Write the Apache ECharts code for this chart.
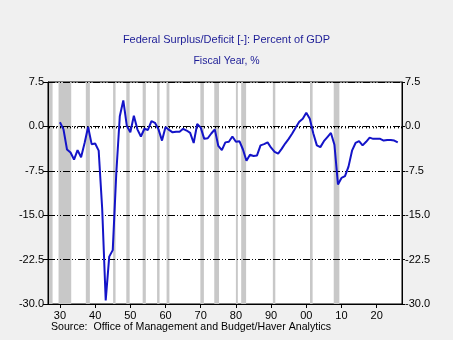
<!DOCTYPE html>
<html>
<head>
<meta charset="utf-8">
<script src="https://cdn.jsdelivr.net/npm/echarts@6/dist/echarts.min.js"></script>
<style>
  html, body { margin: 0; padding: 0; background: #f0f0f0; }
  #chart { width: 453px; height: 340px; }
</style>
</head>
<body>
<div id="chart"></div>
<script>
// Federal surplus (+) / deficit (-) as a percent of GDP, by fiscal year
const years = [];
for (let y = 1930; y <= 2026; y++) years.push(y);

const surplusPct = [
  0.7, -0.5, -3.9, -4.4, -5.6, -4.0, -5.2, -2.8, -0.1, -3.0,   // 1930-1939
  -2.9, -4.1, -13.9, -29.4, -22.0, -20.9, -8.0, 1.7, 4.4, 0.1, // 1940-1949
  -1.0, 1.8, -0.5, -1.7, -0.4, -0.6, 0.9, 0.6, -0.5, -2.4,     // 1950-1959
  -0.1, -0.6, -1.0, -0.9, -0.9, -0.4, -0.7, -1.1, -2.8, 0.4,   // 1960-1969
  -0.2, -2.1, -2.0, -1.2, -0.5, -3.3, -4.0, -2.7, -2.6, -1.7,  // 1970-1979
  -2.6, -2.5, -3.9, -5.8, -4.8, -5.0, -4.9, -3.2, -3.0, -2.7,  // 1980-1989
  -3.6, -4.3, -4.6, -3.8, -2.9, -2.1, -1.2, -0.2, 0.8, 1.3,    // 1990-1999
  2.3, 1.3, -1.2, -3.2, -3.5, -2.5, -1.8, -1.1, -3.1, -9.8,    // 2000-2009
  -8.7, -8.4, -6.8, -4.1, -2.8, -2.5, -3.2, -2.6, -1.9, -2.1,  // 2010-2019
  -2.1, -2.1, -2.4, -2.3, -2.3, -2.4, -2.7                     // 2020-2026
];

// Recession periods (start, end) in fractional years
const recessionStart = [1926.8, 1929.6, 1937.35, 1945.1, 1948.85, 1953.5, 1957.6, 1960.3, 1969.9, 1973.85, 1980.0, 1981.5, 1990.5, 2001.05, 2007.8];
const recessionEnd   = [1927.9, 1933.2, 1938.5, 1945.8, 1949.8, 1954.4, 1958.3, 1961.1, 1970.9, 1975.2, 1980.55, 1982.9, 1991.2, 2001.8, 2009.4];

// Axis tick values
const yearLabels = [1930, 1940, 1950, 1960, 1970, 1980, 1990, 2000, 2010, 2020];
const yearMinor = [];
for (let y = 1927; y <= 2027; y++) yearMinor.push(y);
const yMin = -30, yMax = 7.5, yStep = 7.5;

const titleText = 'Federal Surplus/Deficit [-]: Percent of GDP';
const subtitleText = 'Fiscal Year, %';
const sourceText = 'Source:  Office of Management and Budget/Haver Analytics';

const FONT = '"Liberation Sans", Arial, sans-serif';
const chart = echarts.init(document.getElementById('chart'), null, { renderer: 'canvas' });

const lineData = years.map((y, i) => [y, surplusPct[i]]);
const recessionAreas = recessionStart.map((s, i) => [{ xAxis: s }, { xAxis: recessionEnd[i] }]);

const yLabel = {
  fontFamily: FONT, fontSize: 11, color: '#000',
  formatter: v => v.toFixed(1)
};

chart.setOption({
  backgroundColor: '#f0f0f0',
  animation: false,
  graphic: [
    { type: 'text', left: 'center', top: 34, style: { text: titleText, fontFamily: FONT, fontSize: 11, fill: '#1c1c96' } },
    { type: 'text', left: 'center', top: 56, style: { text: subtitleText, fontFamily: FONT, fontSize: 10.5, fill: '#1c1c96' } },
    { type: 'text', left: 51, top: 322, style: { text: sourceText, fontFamily: FONT, fontSize: 10.6, fill: '#000' } }
  ],
  grid: {
    left: 48, right: 51, top: 82, bottom: 36,
    show: true, backgroundColor: '#ffffff', borderColor: '#000', borderWidth: 1
  },
  xAxis: [
    {
      type: 'value', min: 1926.6, max: 2027.2, position: 'bottom', z: 3,
      axisLine: { show: true, onZero: false, lineStyle: { color: '#000', width: 1 } },
      axisTick: { show: true, customValues: yearLabels, length: 4, lineStyle: { color: '#000' } },
      axisLabel: {
        customValues: yearLabels, margin: 6, fontFamily: FONT, fontSize: 11, color: '#000',
        formatter: v => String(Math.round(v) % 100).padStart(2, '0')
      },
      splitLine: { show: false }
    },
    {
      type: 'value', min: 1926.6, max: 2027.2, position: 'bottom', z: 3,
      axisLine: { show: false },
      axisTick: { show: true, customValues: yearMinor, length: 2, lineStyle: { color: '#000' } },
      axisLabel: { show: false },
      splitLine: { show: false }
    }
  ],
  yAxis: [
    {
      type: 'value', position: 'left', min: yMin, max: yMax, interval: yStep, z: 3,
      axisLine: { show: true, lineStyle: { color: '#000' } },
      axisTick: { show: true, length: 5, lineStyle: { color: '#000' } },
      axisLabel: Object.assign({ margin: 4 }, yLabel),
      splitLine: { show: true, lineStyle: { color: '#000', width: 1, type: [7, 2, 1, 2, 1, 2] } }
    },
    {
      type: 'value', position: 'right', min: yMin, max: yMax, interval: yStep, z: 3,
      axisLine: { show: true, lineStyle: { color: '#000' } },
      axisTick: { show: true, length: 3, lineStyle: { color: '#000' } },
      axisLabel: Object.assign({ margin: 3 }, yLabel),
      splitLine: { show: false }
    }
  ],
  series: [
    {
      // recession shading, kept beneath the grid lines
      type: 'line', data: [], z: 1, xAxisIndex: 0, yAxisIndex: 0,
      markArea: { silent: true, itemStyle: { color: '#c8c8c8' }, data: recessionAreas }
    },
    {
      type: 'line', data: lineData, z: 5, xAxisIndex: 0, yAxisIndex: 0,
      showSymbol: false, symbol: 'none',
      lineStyle: { color: '#1414c8', width: 2 }
    }
  ]
});
</script>
</body>
</html>
